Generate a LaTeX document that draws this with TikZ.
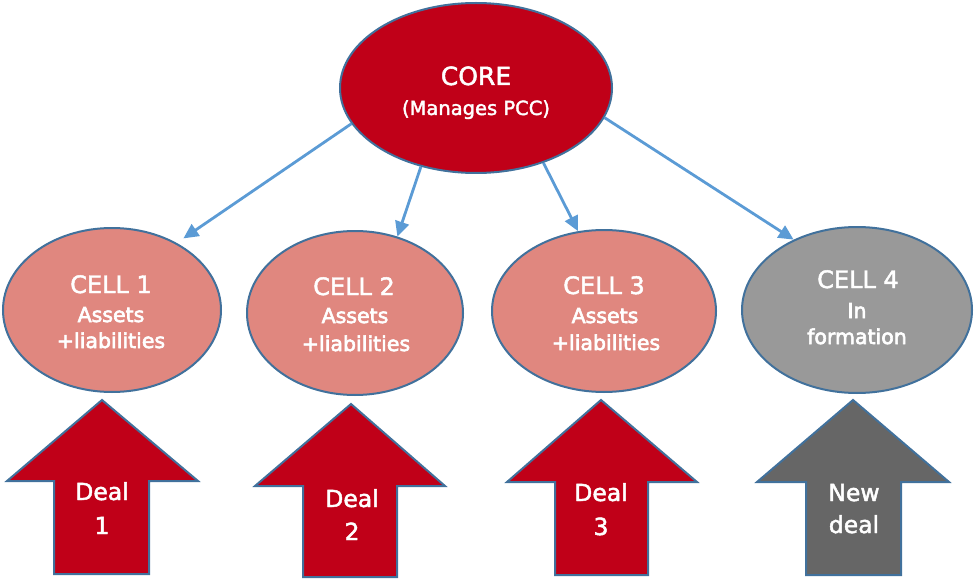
\documentclass[tikz,border=0pt]{standalone}
\usepackage{fontspec}
\setmainfont{DejaVu Sans}
\newfontfamily\heavy[FakeBold=3]{DejaVu Sans}
\newfontfamily\medium[FakeBold=2]{DejaVu Sans}
\usetikzlibrary{shapes.geometric,arrows.meta}
\definecolor{corered}{HTML}{C00018}
\definecolor{cellpink}{HTML}{E0877F}
\definecolor{cellgray}{HTML}{999999}
\definecolor{dealgray}{HTML}{666666}
\definecolor{outline}{HTML}{41719C}
\definecolor{linkblue}{HTML}{5B9BD5}
\begin{document}
\begin{tikzpicture}[x=1pt,y=-1pt,
  oval/.style={ellipse, draw=outline, line width=2pt, inner sep=0pt},
  corestyle/.style={oval, fill=corered, minimum width=272pt, minimum height=170pt},
  cellstyle/.style={oval, fill=cellpink},
  txt/.style={text=white, anchor=base, inner sep=0pt},
  bigtxt/.style={txt, font=\medium\fontsize{24}{28}\selectfont},
  smalltxt/.style={txt, font=\heavy\fontsize{20.5}{25}\selectfont},
  dealtxt/.style={txt, font=\medium\fontsize{23.5}{28}\selectfont},
  link/.style={draw=linkblue, line width=2.8pt, -{Triangle[length=15pt,width=14pt]}},
  blockarrow/.style={draw=outline, line width=2pt, line join=miter}
]
\useasboundingbox (0,0) rectangle (976,580);

% block arrows
\draw[blockarrow, fill=corered] (102,400) -- (198,481) -- (149,481) -- (149,574) -- (54,574) -- (54,481) -- (7,481) -- cycle;
\draw[blockarrow, fill=corered] (351,404) -- (445,486) -- (397,486) -- (397,577) -- (303,577) -- (303,486) -- (255,486) -- cycle;
\draw[blockarrow, fill=corered] (601,400) -- (697,482) -- (648,482) -- (648,575) -- (555,575) -- (555,482) -- (507,482) -- cycle;
\draw[blockarrow, fill=dealgray] (853,400) -- (949,482) -- (901,482) -- (901,575) -- (806,575) -- (806,482) -- (757,482) -- cycle;

% ellipses
\node[corestyle] (core) at (476,88) {};
\node[cellstyle, minimum width=218pt, minimum height=164pt] (c1) at (112,310) {};
\node[cellstyle, minimum width=216pt, minimum height=164pt] (c2) at (355,313) {};
\node[cellstyle, minimum width=224pt, minimum height=162pt] (c3) at (604,311) {};
\node[oval, fill=cellgray, minimum width=230pt, minimum height=166pt] (c4) at (857,310) {};

% connectors
\draw[link, shorten >=8pt] (core.196) -- (c1.46);
\draw[link] (core.235) -- (c2.61);
\draw[link] (core.312) -- (c3.108);
\draw[link] (core.347) -- (c4.132);

% texts
\node[txt, font=\medium\fontsize{25}{30}\selectfont] (coret) at (476,85) {CORE};
\node[txt, font=\medium\fontsize{19.5}{23}\selectfont] (cores) at (476,115) {(Manages PCC)};

\node[bigtxt] (c1t) at (111,293) {CELL 1};
\node[smalltxt] (c1a) at (111,322) {Assets};
\node[smalltxt] (c1b) at (111,348) {+liabilities};

\node[bigtxt] (c2t) at (354,295) {CELL 2};
\node[smalltxt] (c2a) at (355,323) {Assets};
\node[smalltxt] (c2b) at (356,351) {+liabilities};

\node[bigtxt] (c3t) at (604,294) {CELL 3};
\node[smalltxt] (c3a) at (605,323) {Assets};
\node[smalltxt] (c3b) at (606,350) {+liabilities};

\node[bigtxt] (c4t) at (858,288) {CELL 4};
\node[smalltxt] (c4a) at (857,318) {In};
\node[smalltxt] (c4b) at (857,344) {formation};

\node[dealtxt] (d1a) at (102,500) {Deal};
\node[dealtxt] (d1b) at (102,534) {1};
\node[dealtxt] (d2a) at (352,507) {Deal};
\node[dealtxt] (d2b) at (352,540) {2};
\node[dealtxt] (d3a) at (601,501) {Deal};
\node[dealtxt] (d3b) at (601,535) {3};
\node[dealtxt] (d4a) at (854,501) {New};
\node[dealtxt] (d4b) at (854,533) {deal};
\end{tikzpicture}
\end{document}
